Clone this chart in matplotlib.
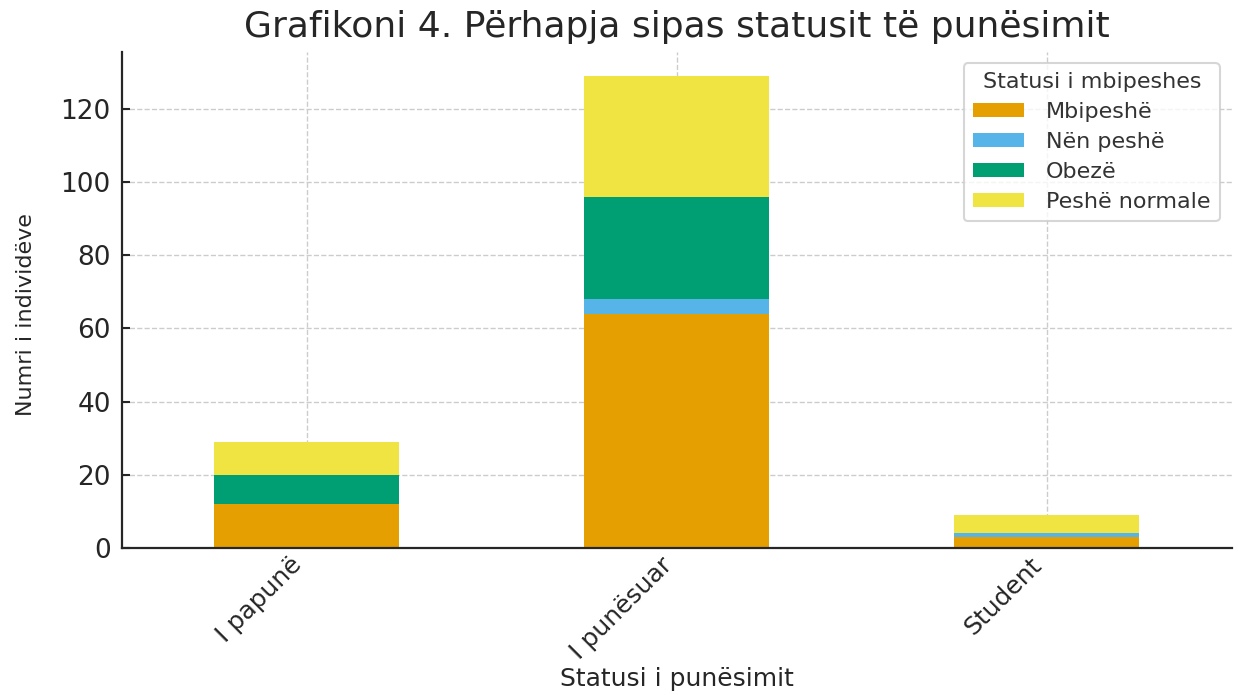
import matplotlib
matplotlib.use("Agg")
import matplotlib.pyplot as plt
import numpy as np

# Data
categories = ['I papunë', 'I punësuar', 'Student']
mbipeshe = [12, 64, 3]
nen_peshe = [0, 4, 1]
obeze = [8, 28, 0]
peshe_normale = [9, 33, 5]

series = [
    ('Mbipeshë', mbipeshe, '#E69F00'),
    ('Nën peshë', nen_peshe, '#56B4E9'),
    ('Obezë', obeze, '#009E73'),
    ('Peshë normale', peshe_normale, '#F0E442'),
]

text_color = '#262626'

fig = plt.figure(figsize=(12.38, 6.95), dpi=100)
ax = fig.add_axes([0.0985, 0.2115, 0.8965, 0.7135])

x = np.arange(len(categories))
bottom = np.zeros(len(categories))
for label, vals, color in series:
    ax.bar(x, vals, width=0.5, bottom=bottom, color=color, label=label, zorder=2)
    bottom += np.array(vals)

ax.set_xlim(-0.5, len(categories) - 0.5)
ax.set_ylim(0, bottom.max() * 1.05)
ax.set_yticks([0, 20, 40, 60, 80, 100, 120])
ax.set_xticks(x)
ax.set_xticklabels(categories, rotation=45, ha='right', fontsize=18, color=text_color)
ax.tick_params(axis='y', labelsize=19, labelcolor=text_color, pad=8)
ax.tick_params(direction='in', length=6, width=1.5, color=text_color)

ax.grid(True, linestyle='--', color='#cccccc', linewidth=1.0, zorder=0)
ax.set_axisbelow(True)
for s in ['top', 'right']:
    ax.spines[s].set_visible(False)
for s in ['left', 'bottom']:
    ax.spines[s].set_linewidth(1.6)
    ax.spines[s].set_color(text_color)

ax.set_title('Grafikoni 4. Përhapja sipas statusit të punësimit', fontsize=26, color=text_color, pad=11)
ax.set_xlabel('Statusi i punësimit', fontsize=18, color=text_color, labelpad=2)
ax.set_ylabel('Numri i individëve', fontsize=16, color=text_color)
ax.yaxis.set_label_coords(-0.077, 0.47)

leg = ax.legend(title='Statusi i mbipeshes', loc='upper right', fontsize=16, title_fontsize=16,
                frameon=True, handlelength=2.3, handleheight=0.6, handletextpad=1.0,
                borderpad=0.4, labelspacing=0.45, bbox_to_anchor=(0.999, 1.0))
leg.get_frame().set_edgecolor('#cccccc')
leg.get_frame().set_linewidth(1.5)
for t in leg.get_texts():
    t.set_color('#333333')
leg.get_title().set_color('#333333')

fig.savefig('out.png', dpi=100)
